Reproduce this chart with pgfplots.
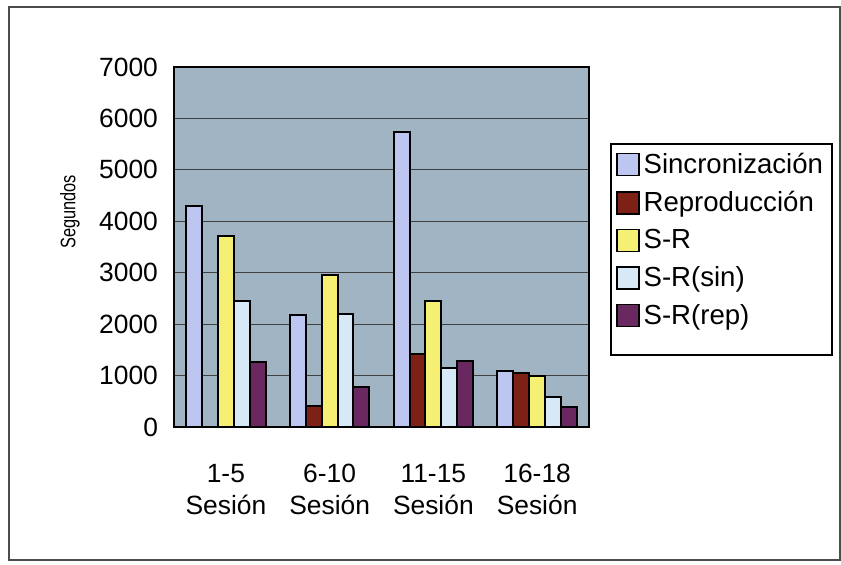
\documentclass[border=0pt]{standalone}
\usepackage{pgfplots}
\pgfplotsset{compat=1.18}
\usepackage{fontspec}
\setmainfont{Liberation Sans}
\definecolor{csinc}{RGB}{188,198,240}
\definecolor{crep}{RGB}{125,32,22}
\definecolor{csr}{RGB}{245,240,115}
\definecolor{csrsin}{RGB}{215,232,246}
\definecolor{csrrep}{RGB}{105,40,95}
\definecolor{plotbg}{RGB}{160,180,196}
\begin{document}
\begin{tikzpicture}[x=1pt,y=1pt]
\useasboundingbox (0,0) rectangle (420.5,282);
\draw[line width=1.2pt, black!70, fill=white] (4.5,2) rectangle (420,278.5);
\node[rotate=90, font=\fontsize{10.5}{12}\selectfont] at (35,176) {\scalebox{0.78}[1]{Segundos}};
\begin{axis}[
  at={(87pt,68.5pt)}, anchor=south west,
  scale only axis, width=207.5pt, height=180pt,
  ybar=0pt, bar width=7.95pt,
  xmin=-0.5, xmax=3.5, ymin=0, ymax=7000,
  xtick=data,
  xticklabels={{1-5\\Sesión},{6-10\\Sesión},{11-15\\Sesión},{16-18\\Sesión}},
  xticklabel style={align=center, font=\fontsize{13.2}{16}\selectfont, yshift=-15pt},
  ytick={0,1000,...,7000},
  yticklabel style={font=\fontsize{13.2}{15}\selectfont, xshift=-4.5pt},
  /pgf/number format/assume math mode=true,
  /pgf/number format/set thousands separator={},
  major tick length=0pt,
  ymajorgrids, major grid style={black!75, line width=0.6pt},
  axis line style={black, line width=1pt},
  axis background/.style={fill=plotbg},
  every axis plot/.append style={draw=black, line width=1pt},
  legend style={at={(1.0506,0.789)}, anchor=north west, draw=black, line width=1pt,
    fill=white, font=\fontsize{13.8}{15}\selectfont, row sep=3.4pt, inner sep=2.5pt,
    cells={anchor=west}},
  legend cell align=left,
  legend image code/.code={\draw[#1, line width=0.8pt] (0pt,-5.5pt) rectangle (11pt,5.5pt);},
]
\addplot[fill=csinc] coordinates {(0,4290) (1,2175) (2,5740) (3,1080)};
\addlegendentry{Sincronización}
\addplot[fill=crep] coordinates {(0,0) (1,400) (2,1420) (3,1045)};
\addlegendentry{Reproducción}
\addplot[fill=csr] coordinates {(0,3710) (1,2950) (2,2450) (3,1000)};
\addlegendentry{S-R}
\addplot[fill=csrsin] coordinates {(0,2450) (1,2190) (2,1140) (3,580)};
\addlegendentry{S-R(sin)}
\addplot[fill=csrrep] coordinates {(0,1255) (1,775) (2,1290) (3,390)};
\addlegendentry{S-R(rep)}
\addlegendimage{empty legend}
\addlegendentry[inner sep=0pt]{\rule{0pt}{4.6pt}}
\end{axis}
\end{tikzpicture}
\end{document}
